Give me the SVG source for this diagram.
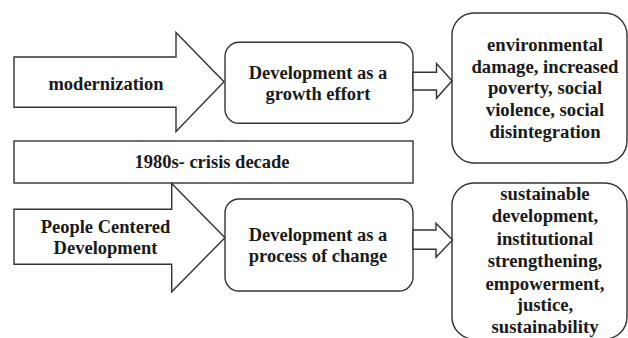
<svg xmlns="http://www.w3.org/2000/svg" width="628" height="338" viewBox="0 0 628 338">
<style>
.s{fill:#fff;stroke:#333;stroke-width:1.4;stroke-linejoin:miter}
text{font-weight:bold;fill:#1a1a1a;text-anchor:middle}
</style>
<rect width="628" height="338" fill="#fff"/>
<g font-family="Liberation Serif, Tinos, Times New Roman, DejaVu Serif, serif" font-size="18.5">
<g id="modernization">
<polygon class="s" points="14,57 176,57 176,32.5 224,81.7 176,131.5 176,107.3 14,107.3"/>
<text x="106" y="90">modernization</text>
</g>
<g id="growth">
<rect class="s" x="225" y="42.3" width="188" height="81" rx="14"/>
<text x="318" y="79.3">Development as a</text>
<text x="318" y="100.3">growth effort</text>
</g>
<g id="problems" font-size="18.7">
<rect class="s" x="452" y="13" width="175" height="150" rx="22"/>
<text x="545" y="50.7">environmental</text>
<text x="545" y="72.5">damage, increased</text>
<text x="545" y="94.3">poverty, social</text>
<text x="545" y="116.1">violence, social</text>
<text x="545" y="138">disintegration</text>
</g>
<g id="crisis">
<rect class="s" x="14" y="141" width="399" height="42"/>
<text x="212" y="168">1980s- crisis decade</text>
</g>
<g id="people">
<polygon class="s" points="14,209.3 171.7,209.3 171.7,183.5 225,237.7 171.7,291.7 171.7,264.3 14,264.3"/>
<text x="105.5" y="232.7">People Centered</text>
<text x="105.5" y="254.3">Development</text>
</g>
<g id="change">
<rect class="s" x="225" y="199" width="188" height="92" rx="14"/>
<text x="318" y="241">Development as a</text>
<text x="318" y="262">process of change</text>
</g>
<g id="outcomes" font-size="18.7">
<rect class="s" x="452" y="183" width="175" height="156" rx="22"/>
<text x="545" y="200">sustainable</text>
<text x="545" y="222.3">development,</text>
<text x="545" y="245">institutional</text>
<text x="545" y="267.2">strengthening,</text>
<text x="545" y="289.5">empowerment,</text>
<text x="545" y="311.3">justice,</text>
<text x="545" y="333">sustainability</text>
</g>
<g id="connectors">
<polygon class="s" points="413,72.3 436.5,72.3 436.5,63.5 452,80.7 436.5,98.3 436.5,90 413,90"/>
<polygon class="s" points="413,230 436,230 436,223.3 452.5,240 436,257.3 436,249.3 413,249.3"/>
</g>
</g>
</svg>
